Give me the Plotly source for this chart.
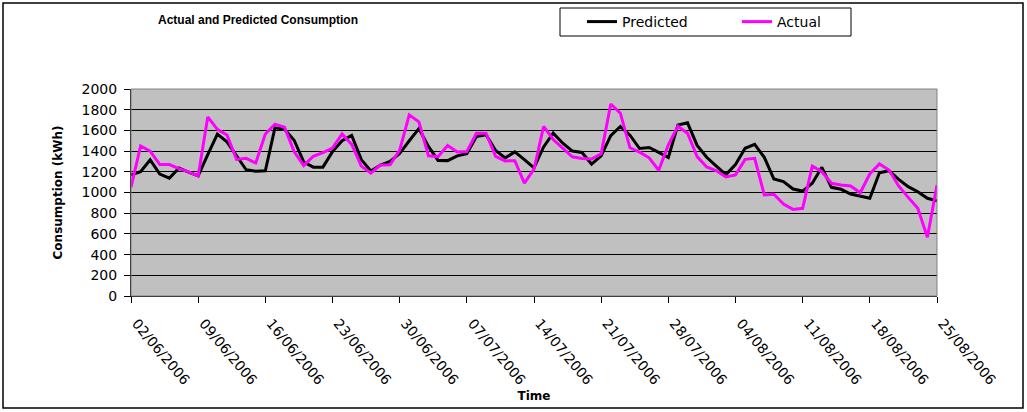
import pandas as pd
import plotly.graph_objects as go

dates = pd.date_range("2006-06-02", "2006-08-25", freq="D")

predicted = [1170, 1200, 1316, 1178, 1139, 1236, 1197, 1160, 1365, 1565,
             1490, 1360, 1220, 1205, 1210, 1625, 1612, 1505, 1295, 1245,
             1245, 1395, 1500, 1552, 1318, 1207, 1265, 1300, 1376, 1500,
             1617, 1445, 1310, 1308, 1354, 1376, 1540, 1558, 1406, 1335,
             1392, 1318, 1238, 1440, 1573, 1476, 1400, 1387, 1275, 1354,
             1550, 1638, 1554, 1425, 1435, 1388, 1338, 1653, 1673, 1455,
             1340, 1255, 1173, 1270, 1427, 1466, 1340, 1130, 1105, 1034,
             1014, 1089, 1243, 1050, 1031, 985, 966, 944, 1191, 1211,
             1127, 1056, 1008, 944, 921]

actual = [1050, 1450, 1400, 1270, 1270, 1230, 1200, 1160, 1730, 1610,
          1555, 1320, 1330, 1285, 1565, 1660, 1630, 1395, 1260, 1350,
          1385, 1430, 1565, 1465, 1255, 1187, 1265, 1268, 1410, 1750,
          1683, 1355, 1345, 1455, 1392, 1395, 1573, 1573, 1350, 1305,
          1307, 1090, 1225, 1638, 1512, 1425, 1345, 1328, 1323, 1375,
          1855, 1766, 1432, 1390, 1335, 1215, 1460, 1640, 1573, 1347,
          1247, 1210, 1150, 1170, 1320, 1330, 976, 983, 889, 837,
          847, 1256, 1201, 1089, 1072, 1063, 998, 1179, 1275, 1217,
          1063, 953, 847, 567, 1072]

y_ticks = [0, 200, 400, 600, 800, 1000, 1200, 1400, 1600, 1800, 2000]

W, H = 1027, 412
L, R, T, B = 131, 937, 89, 296

def px(x):
    return (x - L) / (R - L)

def py(y):
    return (B - y) / (B - T)

fig = go.Figure()
fig.add_trace(go.Scatter(x=dates, y=predicted, mode="lines", name="Predicted",
                         line=dict(color="#000000", width=3)))
fig.add_trace(go.Scatter(x=dates, y=actual, mode="lines", name="Actual",
                         line=dict(color="#FF00FF", width=3)))

font = "Arial, Liberation Sans, sans-serif"
wide = "DejaVu Sans, Arial, sans-serif"

fig.update_layout(
    width=W, height=H,
    margin=dict(l=L, r=W - R, t=T, b=H - B, autoexpand=False),
    paper_bgcolor="white",
    plot_bgcolor="#C0C0C0",
    font=dict(family=font, size=13, color="black"),
    title=dict(text="<b>Actual and Predicted Consumption</b>",
               x=258 / W, xref="container", xanchor="center",
               y=1 - 20 / H, yref="container", yanchor="middle",
               font=dict(size=12, family=font)),
    legend=dict(orientation="h", x=px(582), y=py(22), xanchor="left", yanchor="middle",
                bgcolor="rgba(0,0,0,0)", borderwidth=0,
                entrywidth=110, entrywidthmode="pixels",
                font=dict(size=14, family=wide)),
    showlegend=True,
)

fig.update_xaxes(
    range=[dates[0], dates[-1]],
    tickmode="linear", tick0=dates[0], dtick=7 * 24 * 3600 * 1000,
    tickformat="\u00a0\u00a0%d/%m/%Y", tickangle=50,
    ticks="outside", ticklen=6, tickcolor="black",
    ticklabelstandoff=0,
    showgrid=False, showline=True, linecolor="black", linewidth=1,
    zeroline=False,
    title=dict(text="<b>Time</b>", font=dict(size=12, family=wide), standoff=4),
    tickfont=dict(size=14, family=wide),
)
fig.update_yaxes(
    range=[0, 2000], tickvals=y_ticks,
    ticks="outside", ticklen=6, tickcolor="black",
    ticklabelstandoff=4,
    showgrid=True, gridcolor="black", gridwidth=1,
    showline=True, linecolor="black", linewidth=1, zeroline=False,
    title=dict(text="<b>Consumption (kWh)</b>", font=dict(size=12, family=wide), standoff=16),
    tickfont=dict(size=14, family=wide),
)

# legend frame, plot-area border (gray) and outer chart frame
fig.add_shape(type="rect", xref="paper", yref="paper",
              x0=px(560), x1=px(851), y0=py(36), y1=py(8),
              line=dict(color="black", width=1), fillcolor="white", layer="below")
fig.add_shape(type="rect", xref="paper", yref="paper", x0=0, x1=1, y0=0, y1=1,
              line=dict(color="#808080", width=1), layer="above")
fig.add_shape(type="rect", xref="paper", yref="paper",
              x0=px(3), x1=px(1023), y0=py(408), y1=py(3),
              line=dict(color="black", width=1.5), layer="above")

fig.write_html("out.html", config={"displayModeBar": False},
               post_script="document.body.style.margin='0';")
